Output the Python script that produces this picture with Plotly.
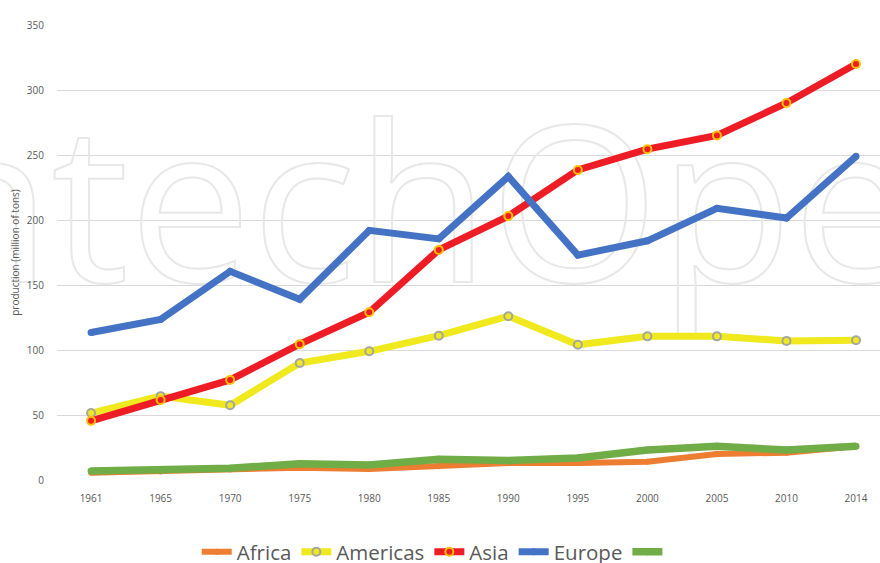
import plotly.graph_objects as go

years = ["1961", "1965", "1970", "1975", "1980", "1985", "1990", "1995", "2000", "2005", "2010", "2014"]
africa = [5.5, 6.5, 8, 9.5, 8.5, 10.5, 13, 13, 14, 20, 21, 26]
americas = [51.5, 64.5, 57.5, 90, 99, 111, 126, 104, 110.5, 110.5, 107, 107.5]
asia = [45.5, 61.5, 77, 104.5, 129, 177, 203, 238.5, 254.5, 265, 290, 320]
europe = [113.5, 123.5, 160.5, 139, 192, 185.5, 233.5, 173, 184, 209, 201.5, 249]
other = [7, 7.5, 9, 12.5, 11.5, 16, 15, 17, 23, 26, 23, 26]

y_ticks = [0, 50, 100, 150, 200, 250, 300, 350]
y_title = "production (million of tons)"
watermark = "IntechOpen"

idx = list(range(len(years)))
fig = go.Figure()

# faint watermark (drawn first so it stays beneath the series)
fig.add_trace(go.Scatter(
    x=[5.2], y=[194], mode="text", text=[watermark],
    textposition="middle center", cliponaxis=False,
    textfont=dict(family="Open Sans", size=218, color="#ebebeb"),
    hoverinfo="skip", showlegend=False))

def add(name, vals, color, width, msize, mline=None, mfill=None):
    fig.add_trace(go.Scatter(
        x=idx, y=vals, name=name, mode="lines+markers",
        line=dict(color=color, width=width),
        marker=dict(size=msize, color=mfill or color,
                    line=dict(color=mline or color, width=2 if mline else 0)),
        cliponaxis=False))

add("Africa", africa, "#ED7D31", 6, 6)
add("Americas", americas, "#F0E91E", 7, 8, mline="#A5A5A5")
add("Asia", asia, "#EE1C25", 7, 8, mline="#FFC000")
add("Europe", europe, "#4472C4", 7, 7)
add(" ", other, "#70AD47", 7.5, 7)

tick_font = dict(family="Open Sans", size=10, color="#595959")
fig.update_layout(
    width=880, height=563,
    margin=dict(l=57, r=0, t=25, b=83, autoexpand=False),
    paper_bgcolor="white", plot_bgcolor="white",
    showlegend=True,
    legend=dict(orientation="h", x=0.462, xanchor="center", y=-0.158, yanchor="middle",
                font=dict(family="Open Sans", size=20.5, color="#595959"),
                itemwidth=30, tracegroupgap=0),
    xaxis=dict(tickmode="array", tickvals=idx, ticktext=years,
               range=[-0.49, 11.345], showgrid=False, zeroline=False, showline=False,
               ticks="outside", ticklen=9, tickcolor="rgba(0,0,0,0)",
               tickfont=tick_font, fixedrange=True, automargin=False),
    yaxis=dict(range=[0, 350], tickvals=y_ticks, showgrid=True, gridcolor="#D9D9D9",
               gridwidth=1.3, zeroline=False, showline=False,
               ticks="outside", ticklen=10, tickcolor="rgba(0,0,0,0)",
               tickfont=tick_font, automargin=False, fixedrange=True,
               title=dict(text=y_title, font=dict(family="Open Sans", size=10, color="#595959"),
                          standoff=5)),
)

post = """
document.body.style.margin = '0';
document.body.style.padding = '0';
var gd = document.getElementById('{plot_id}');
gd.querySelectorAll('.textpoint text').forEach(function(t){
  t.style.fill = 'none'; t.style.stroke = '#e8e8e8'; t.style.strokeWidth = '2px';
});
"""
fig.write_html("out.html", post_script=post, config={"displayModeBar": False})
